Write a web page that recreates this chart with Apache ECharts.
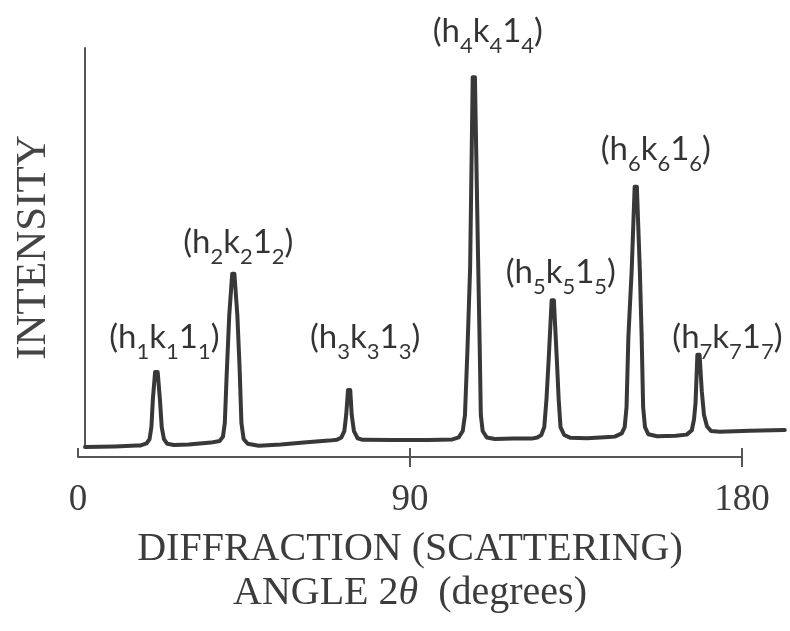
<!DOCTYPE html>
<html>
<head>
<meta charset="utf-8">
<script src="https://cdn.jsdelivr.net/npm/echarts@6/dist/echarts.min.js"></script>
<style>
html, body { margin: 0; padding: 0; background: #fff; }
#main { width: 790px; height: 631px; }
</style>
</head>
<body>
<div id="main"></div>
<script>
// trace: diffraction angle 2θ (deg) and intensity (0-100 of the axis)
var angle = [
	1.9, 10, 16,
	17.0, 18.6, 19.4, 19.9, 20.3, 20.9, 21.6, 22.2, 22.7, 23.3, 24.2, 26,
	30, 33, 36, 38.4,
	39.3, 39.8, 40.3, 41.0, 41.8, 42.4, 43.2, 43.8, 44.3, 44.9, 46.0, 49,
	55, 62, 68,
	70.2, 71.4, 72.2, 72.7, 73.2, 73.8, 74.2, 74.8, 75.8, 77.2,
	85.4, 95, 101.5,
	103.2, 104.3, 104.9, 105.6, 106.3, 107.0, 107.6, 108.4, 108.9, 109.2, 109.7, 110.8, 113,
	118, 123,
	124.5, 125.6, 126.4, 127.0, 127.6, 128.4, 129.0, 129.8, 130.3, 130.8, 131.8, 133.5,
	138, 144,
	145.5, 147.4, 148.2, 148.7, 149.2, 150.1, 150.9, 151.5, 152.3, 152.8, 153.2, 153.7, 154.6, 157,
	162,
	165.0, 166.4, 167.0, 167.4, 167.9, 168.5, 169.1, 169.7, 170.5, 171.6, 174, 182, 191.6
];
var intensity = [
	0, 0.15, 0.35,
	0.4, 0.9, 2.0, 5, 12, 18.8, 18.8, 12, 5, 2.0, 0.8, 0.5,
	0.6, 0.9, 1.1, 1.5,
	2.6, 6, 18, 33, 43.4, 43.4, 33, 20, 6, 2.0, 0.8, 0.3,
	0.6, 1.2, 1.6,
	1.8, 2.4, 4, 8, 14.3, 14.3, 8, 4, 2.2, 1.8,
	1.75, 1.75, 1.9,
	2.4, 4, 8, 25, 45, 92.7, 92.7, 50, 25, 8, 4, 2.4, 2.0,
	2.1, 2.1,
	2.4, 3.0, 5, 12, 22, 36.8, 36.8, 22, 12, 5, 3.0, 2.3,
	2.2, 2.5,
	2.6, 3.4, 5, 10, 27.6, 44.4, 65.2, 65.2, 44.4, 27.6, 10, 5, 3.2, 2.7,
	2.8,
	3.1, 4.2, 7, 11, 23.1, 23.1, 14, 8, 5.2, 4.0, 3.8, 4.1, 4.25
];

// reflections (hkl) at each peak
var peakAngle = [21.25, 42.1, 73.5, 107.3, 128.7, 151.2, 168.2];
var peakHeight = [18.8, 43.4, 14.3, 92.7, 36.8, 65.2, 23.1];
var peakIndex = ['1', '2', '3', '4', '5', '6', '7'];

var xTicks = [0, 90, 180];
var crossTicks = [90, 180];   // ticks that also cross below the ruler
var traceEnd = 192;           // the trace runs on past the 180 mark of the ruler

// label placement relative to the peak tip, pixels
var labelOffset = [[8, -28], [5, -25], [16, -46], [14, -39], [8, -21], [20, -31], [29, -11]];

var curve = angle.map(function (a, i) { return [a, intensity[i]]; });
var peaks = peakAngle.map(function (a, i) {
	return { value: [a, peakHeight[i]], name: peakIndex[i], label: { offset: labelOffset[i] } };
});

var serif = '"Liberation Serif", "DejaVu Serif", serif';
var ink = '#383838';

// ruler 0..180 spans 78..742 px; the plot grid keeps the same px per degree out to traceEnd
var rulerLeft = 78, rulerRight = 48;
var pxPerDeg = (790 - rulerLeft - rulerRight) / 180;
var plotRight = 790 - rulerLeft - traceEnd * pxPerDeg;

var myChart = echarts.init(document.getElementById('main'));

var option = {
	backgroundColor: '#fff',
	animation: false,
	grid: [
		{ left: rulerLeft, right: rulerRight, top: 48, bottom: 184 },
		{ left: rulerLeft, right: plotRight, top: 48, bottom: 184 }
	],
	xAxis: [
		{
			gridIndex: 0,
			type: 'value',
			min: 0,
			max: 180,
			interval: 90,
			position: 'bottom',
			offset: 10,
			splitLine: { show: false },
			axisLine: { onZero: false, lineStyle: { color: '#555', width: 2 } },
			axisTick: { show: true, length: 10, customValues: crossTicks, lineStyle: { color: '#555', width: 2 } },
			axisLabel: {
				margin: 25,
				color: '#3c3c3c',
				fontFamily: serif,
				fontSize: 37,
				formatter: function (v) { return xTicks.indexOf(v) >= 0 ? String(v) : ''; }
			},
			name: 'DIFFRACTION (SCATTERING)\nANGLE 2{it|θ}  (degrees)',
			nameLocation: 'middle',
			nameGap: 70,
			nameTextStyle: {
				color: '#3c3c3c',
				fontFamily: serif,
				fontSize: 40,
				lineHeight: 44,
				rich: {
					it: { fontFamily: serif, fontStyle: 'italic', fontSize: 40, color: '#3c3c3c', lineHeight: 44 }
				}
			}
		},
		{
			gridIndex: 0,
			type: 'value',
			min: 0,
			max: 180,
			interval: 90,
			position: 'bottom',
			offset: 10,
			splitLine: { show: false },
			axisLine: { show: false, onZero: false },
			axisTick: { show: true, inside: true, length: 9, lineStyle: { color: '#555', width: 2 } },
			axisLabel: { show: false }
		},
		{
			gridIndex: 1,
			type: 'value',
			min: 0,
			max: traceEnd,
			show: false
		}
	],
	yAxis: [
		{
			gridIndex: 0,
			type: 'value',
			min: 0,
			max: 100,
			show: false
		},
		{
			gridIndex: 1,
			type: 'value',
			min: 0,
			max: 100,
			position: 'left',
			offset: -7,
			splitLine: { show: false },
			axisTick: { show: false },
			axisLabel: { show: false },
			axisLine: { show: true, onZero: false, lineStyle: { color: '#555', width: 2 } },
			name: 'INTENSITY',
			nameLocation: 'middle',
			nameGap: 30,
			nameTextStyle: { color: '#444', fontFamily: serif, fontSize: 43 }
		}
	],
	series: [
		{
			name: 'intensity',
			type: 'line',
			xAxisIndex: 2,
			yAxisIndex: 1,
			data: curve,
			clip: false,
			showSymbol: false,
			symbol: 'none',
			lineStyle: { color: ink, width: 4, join: 'round', cap: 'round' }
		},
		{
			name: 'hkl',
			type: 'scatter',
			xAxisIndex: 2,
			yAxisIndex: 1,
			data: peaks,
			symbolSize: 0,
			clip: false,
			label: {
				show: true,
				position: 'inside',
				color: '#000',
				formatter: function (p) {
					var i = p.name;
					return '{n|(h}{s|' + i + '}{n|k}{s|' + i + '}{n|1}{s|' + i + '}{n|)}';
				},
				rich: {
					n: { fontFamily: 'Lato', fontSize: 33, color: '#000', lineHeight: 38, verticalAlign: 'bottom', padding: [0, 0, 9, 0] },
					s: { fontFamily: 'Lato', fontSize: 22, color: '#000', lineHeight: 30, verticalAlign: 'bottom' }
				}
			}
		}
	]
};

myChart.setOption(option);
</script>
</body>
</html>
